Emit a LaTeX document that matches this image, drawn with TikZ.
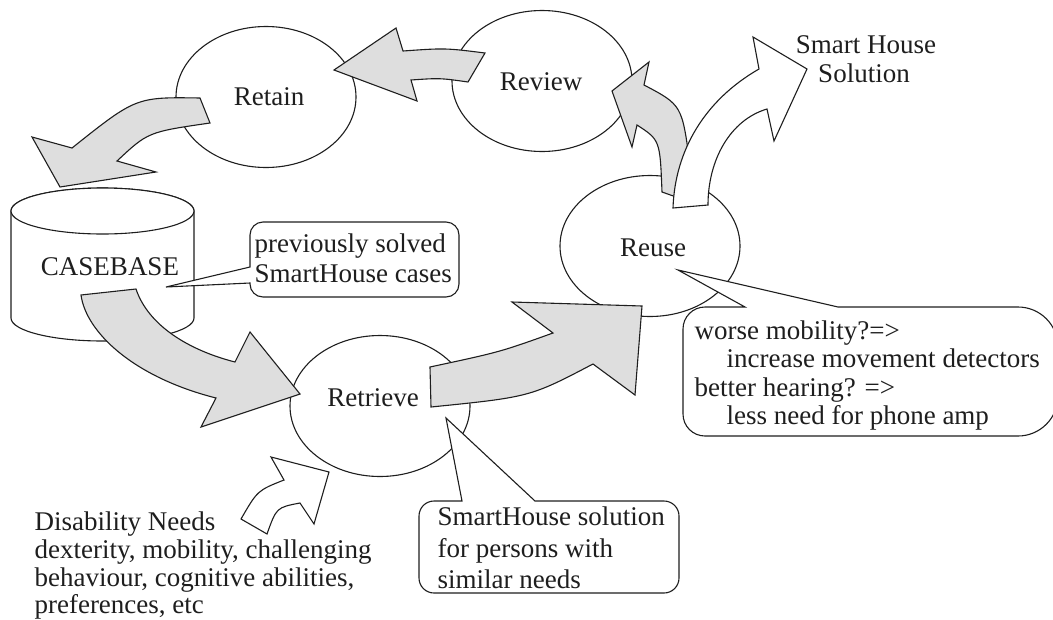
\documentclass[tikz,border=0pt]{standalone}
\usepackage{fontspec}
\setmainfont{Liberation Serif}
\usetikzlibrary{shapes.geometric}
\definecolor{arrowgray}{RGB}{222,222,222}
\definecolor{ink}{RGB}{30,30,30}
\begin{document}
\begin{tikzpicture}[x=1pt,y=-1pt,
  line width=1.1pt, line join=miter,
  txt/.style={inner sep=0pt, font=\fontsize{27}{30}\selectfont, text=ink},
  stage/.style={ellipse, draw=ink, fill=white, minimum width=180pt, minimum height=141pt, inner sep=0pt},
  grayarrow/.style={draw=ink, fill=arrowgray},
  whitearrow/.style={draw=ink, fill=white},
  callout/.style={draw=ink, fill=white},
  dbshape/.style={draw=ink, fill=white}]
\useasboundingbox (0,0) rectangle (1053,619);

% stages
\node[stage] (retain) at (266,97) {};
\node[stage] (review) at (542,81) {};
\node[stage] (reuse) at (650,246) {};
\node[stage] (retrieve) at (380,406) {};

% case base cylinder
\draw[dbshape] (11,211) -- (11,318) arc[start angle=180, end angle=0, x radius=91.5, y radius=23]
  -- (194,211) arc[start angle=0, end angle=-180, x radius=91.5, y radius=23] -- cycle;
\draw[dbshape] (102.5,211) ellipse[x radius=91.5, y radius=23];

% Review -> Retain
\draw[grayarrow] (485,53) -- (468,82) .. controls (440,78) .. (411,80) -- (417,101) -- (334,70)
  -- (396,28) -- (403,51) .. controls (445,48) .. (485,53) -- cycle;
% Retain -> Casebase
\draw[grayarrow] (200,98) .. controls (136,97) .. (72,148) -- (32,137) -- (60,187) -- (156,172)
  -- (117,161) .. controls (148,132) .. (210,123) -- cycle;
% Casebase -> Retrieve
\draw[grayarrow] (81,295) .. controls (86,332) and (133,377) .. (216,398) -- (201,427) -- (300,394)
  -- (250,332) -- (235,362) .. controls (188,350) and (148,325) .. (136,289) -- cycle;
% Retrieve -> Reuse
\draw[grayarrow] (430,367) .. controls (500,352) .. (553,333) -- (512,302) -- (642,306) -- (635,395)
  -- (593,364) .. controls (530,397) .. (431,407) -- cycle;
% Reuse -> Review
\draw[grayarrow] (662,192) .. controls (660,140) .. (637,125) -- (632,147) -- (612,91) -- (649,62)
  -- (644,85) .. controls (682,105) .. (690,165) -- (693,203) -- cycle;
% Reuse -> Smart House Solution
\draw[whitearrow] (673,208) .. controls (675,150) and (705,100) .. (759,69) -- (753,37) -- (807,69)
  -- (774,141) -- (767,109) .. controls (730,120) and (708,160) .. (708,205) -- cycle;
% Disability needs -> Retrieve
\draw[whitearrow] (241,519) .. controls (257.5,490.5) .. (284,480) -- (271,457) -- (329,472)
  -- (314,524) -- (300,503) .. controls (276.5,507.5) .. (267,534) -- cycle;

% callout: previously solved
\draw[callout] (263,222) -- (446,222) arc[start angle=270, end angle=360, radius=13]
  -- (459,284) arc[start angle=0, end angle=90, radius=13]
  -- (263,297) arc[start angle=90, end angle=180, radius=13]
  -- (250,283) -- (166,287) -- (250,267)
  -- (250,235) arc[start angle=180, end angle=270, radius=13] -- cycle;
% callout: reuse adaptations
\draw[callout] (705,307) -- (745,307) -- (678,270) -- (838,307)
  -- (1018,307) arc[start angle=270, end angle=360, radius=40]
  -- (1058,396) arc[start angle=0, end angle=90, radius=40]
  -- (705,436) arc[start angle=90, end angle=180, radius=22]
  -- (683,329) arc[start angle=180, end angle=270, radius=22] -- cycle;
% callout: smart house solution for persons
\draw[callout] (434,501) -- (462,501) -- (446,418) -- (535,501)
  -- (664,501) arc[start angle=270, end angle=360, radius=15]
  -- (679,578) arc[start angle=0, end angle=90, radius=15]
  -- (434,593) arc[start angle=90, end angle=180, radius=15]
  -- (419,516) arc[start angle=180, end angle=270, radius=15] -- cycle;

% texts
\node[txt, anchor=base] (retaintxt) at (269,105) {Retain};
\node[txt, anchor=base] (reviewtxt) at (541,90) {Review};
\node[txt, anchor=base] (reusetxt) at (653,256) {Reuse};
\node[txt, anchor=base] (retrievetxt) at (373,406) {Retrieve};
\node[txt, anchor=base] (casetxt) at (110,275) {CASEBASE};

\node[txt, anchor=base] (sol1) at (866,53) {Smart House};
\node[txt, anchor=base] (sol2) at (864,82) {Solution};

\node[txt, anchor=base west] (prev1) at (254,252) {previously solved};
\node[txt, anchor=base west] (prev2) at (254,282) {SmartHouse cases};

\node[txt, anchor=base west] (adapt1) at (694,339) {worse mobility?=>};
\node[txt, anchor=base west] (adapt2) at (726,367) {increase movement detectors};
\node[txt, anchor=base west] (adapt3) at (694,396) {better hearing? =>};
\node[txt, anchor=base west] (adapt4) at (726,424) {less need for phone amp};

\node[txt, anchor=base west] (sim1) at (437,525) {SmartHouse solution};
\node[txt, anchor=base west] (sim2) at (437,557) {for persons with};
\node[txt, anchor=base west] (sim3) at (437,588) {similar needs};

\node[txt, anchor=base west] (need1) at (34,530) {Disability Needs};
\node[txt, anchor=base west] (need2) at (34,558) {dexterity, mobility, challenging};
\node[txt, anchor=base west] (need3) at (34,586) {behaviour, cognitive abilities,};
\node[txt, anchor=base west] (need4) at (34,613) {preferences, etc};
\end{tikzpicture}
\end{document}
